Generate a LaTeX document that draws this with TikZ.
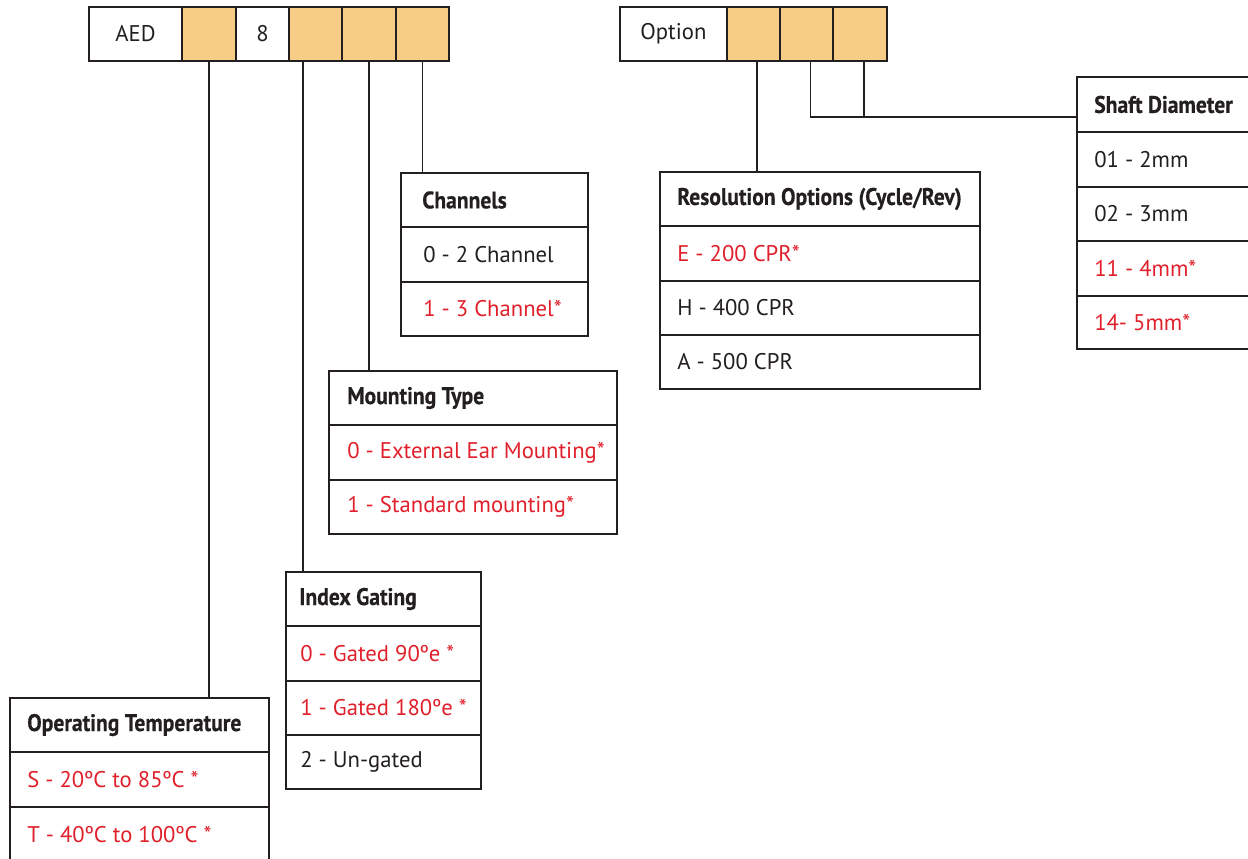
\documentclass[tikz,border=0pt]{standalone}
\usepackage{fontspec}
\setmainfont{PT Sans}
\newfontfamily\hfont{PT Sans}[FakeStretch=0.9,FakeBold=0.4]
\newdimen\pxu \pxu=0.75pt
\definecolor{ink}{HTML}{231F20}
\definecolor{optred}{HTML}{E0202B}
\definecolor{cellor}{HTML}{F7CC84}
\tikzset{
  cellbox/.style={draw=ink, line width=1.05pt, inner sep=0pt, outer sep=0pt, anchor=north west},
  hcell/.style={cellbox, minimum height=54*\pxu, font=\fontsize{17}{20}\selectfont, text=ink},
  ocell/.style={hcell, fill=cellor},
  headtxt/.style={anchor=west, inner sep=0pt, font=\hfont\bfseries\fontsize{18}{20}\selectfont, text=ink},
  itemtxt/.style={anchor=west, inner sep=0pt, font=\fontsize{17}{20}\selectfont, text=ink},
  reditem/.style={itemtxt, text=optred},
  link/.style={draw=ink, line width=1.1pt}
}
\begin{document}
\begin{tikzpicture}[x=0.75pt, y=-0.75pt]
\useasboundingbox (0,0) rectangle (1248,858);
% ---------- top-left code boxes ----------
\node[hcell, minimum width=93*\pxu] (aed) at (89,7) {AED};
\node[ocell, minimum width=54*\pxu] (o1) at (182,7) {};
\node[hcell, minimum width=53*\pxu] (eight) at (236,7) {8};
\node[ocell, minimum width=53*\pxu] (o2) at (289,7) {};
\node[ocell, minimum width=54*\pxu] (o3) at (342,7) {};
\node[ocell, minimum width=53*\pxu] (o4) at (396,7) {};
% ---------- option code boxes ----------
\node[hcell, minimum width=107*\pxu] (opt) at (620,7) {Option};
\node[ocell, minimum width=53*\pxu] (p1) at (727,7) {};
\node[ocell, minimum width=53*\pxu] (p2) at (780,7) {};
\node[ocell, minimum width=54*\pxu] (p3) at (833,7) {};
% ---------- Channels ----------
\node[cellbox, minimum width=187*\pxu, minimum height=54*\pxu] (chH) at (401,173) {};
\node[cellbox, minimum width=187*\pxu, minimum height=55*\pxu] (ch0) at (401,227) {};
\node[cellbox, minimum width=187*\pxu, minimum height=54*\pxu] (ch1) at (401,282) {};
\node[headtxt] (chHt) at ([xshift=21*\pxu]chH.west) {Channels};
\node[itemtxt] (ch0t) at ([xshift=22*\pxu]ch0.west) {0 - 2 Channel};
\node[reditem] (ch1t) at ([xshift=22*\pxu]ch1.west) {1 - 3 Channel*};
% ---------- Mounting Type ----------
\node[cellbox, minimum width=288*\pxu, minimum height=54*\pxu] (mtH) at (329,371) {};
\node[cellbox, minimum width=288*\pxu, minimum height=55*\pxu] (mt0) at (329,425) {};
\node[cellbox, minimum width=288*\pxu, minimum height=54*\pxu] (mt1) at (329,480) {};
\node[headtxt] (mtHt) at ([xshift=18*\pxu]mtH.west) {Mounting Type};
\node[reditem] (mt0t) at ([xshift=18*\pxu]mt0.west) {0 - External Ear Mounting*};
\node[reditem] (mt1t) at ([xshift=18*\pxu]mt1.west) {1 - Standard mounting*};
% ---------- Index Gating ----------
\node[cellbox, minimum width=195*\pxu, minimum height=54*\pxu] (igH) at (286,572) {};
\node[cellbox, minimum width=195*\pxu, minimum height=55*\pxu] (ig0) at (286,626) {};
\node[cellbox, minimum width=195*\pxu, minimum height=54*\pxu] (ig1) at (286,681) {};
\node[cellbox, minimum width=195*\pxu, minimum height=54*\pxu] (ig2) at (286,735) {};
\node[headtxt] (igHt) at ([xshift=13*\pxu]igH.west) {Index Gating};
\node[reditem] (ig0t) at ([xshift=14*\pxu]ig0.west) {0 - Gated 90ºe *};
\node[reditem] (ig1t) at ([xshift=14*\pxu]ig1.west) {1 - Gated 180ºe *};
\node[itemtxt] (ig2t) at ([xshift=14*\pxu]ig2.west) {2 - Un-gated};
% ---------- Operating Temperature ----------
\node[cellbox, minimum width=259*\pxu, minimum height=54*\pxu] (otH) at (10,698) {};
\node[cellbox, minimum width=259*\pxu, minimum height=55*\pxu] (ot0) at (10,752) {};
\node[cellbox, minimum width=259*\pxu, minimum height=56*\pxu] (ot1) at (10,807) {};
\node[headtxt] (otHt) at ([xshift=17*\pxu]otH.west) {Operating Temperature};
\node[reditem] (ot0t) at ([xshift=17*\pxu]ot0.west) {S - 20ºC to 85ºC *};
\node[reditem] (ot1t) at ([xshift=17*\pxu]ot1.west) {T - 40ºC to 100ºC *};
% ---------- Resolution Options ----------
\node[cellbox, minimum width=320*\pxu, minimum height=54*\pxu] (rsH) at (660,172) {};
\node[cellbox, minimum width=320*\pxu, minimum height=55*\pxu] (rs0) at (660,226) {};
\node[cellbox, minimum width=320*\pxu, minimum height=54*\pxu] (rs1) at (660,281) {};
\node[cellbox, minimum width=320*\pxu, minimum height=54*\pxu] (rs2) at (660,335) {};
\node[headtxt] (rsHt) at ([xshift=17*\pxu]rsH.west) {Resolution Options (Cycle/Rev)};
\node[reditem] (rs0t) at ([xshift=17*\pxu]rs0.west) {E - 200 CPR*};
\node[itemtxt] (rs1t) at ([xshift=17*\pxu]rs1.west) {H - 400 CPR};
\node[itemtxt] (rs2t) at ([xshift=17*\pxu]rs2.west) {A - 500 CPR};
% ---------- Shaft Diameter ----------
\node[cellbox, minimum width=190*\pxu, minimum height=55*\pxu] (sdH) at (1077,77) {};
\node[cellbox, minimum width=190*\pxu, minimum height=55*\pxu] (sd0) at (1077,132) {};
\node[cellbox, minimum width=190*\pxu, minimum height=54*\pxu] (sd1) at (1077,187) {};
\node[cellbox, minimum width=190*\pxu, minimum height=55*\pxu] (sd2) at (1077,241) {};
\node[cellbox, minimum width=190*\pxu, minimum height=53*\pxu] (sd3) at (1077,296) {};
\node[headtxt] (sdHt) at ([xshift=17*\pxu]sdH.west) {Shaft Diameter};
\node[itemtxt] (sd0t) at ([xshift=17*\pxu]sd0.west) {01 - 2mm};
\node[itemtxt] (sd1t) at ([xshift=17*\pxu]sd1.west) {02 - 3mm};
\node[reditem] (sd2t) at ([xshift=17*\pxu]sd2.west) {11 - 4mm*};
\node[reditem] (sd3t) at ([xshift=17*\pxu]sd3.west) {14- 5mm*};
% ---------- connectors ----------
\coordinate (xig) at (303,0);
\coordinate (xrs) at (757,0);
\coordinate (xsa) at (810.5,0);
\coordinate (xsb) at (864,0);
\coordinate (sdj) at (1077,117);
\draw[link] (o1.south) -- (otH.north -| o1.south);
\draw[link] (o2.south -| xig) -- (igH.north -| xig);
\draw[link] (o3.south) -- (mtH.north -| o3.south);
\draw[link] (o4.south) -- (chH.north -| o4.south);
\draw[link] (p1.south -| xrs) -- (rsH.north -| xrs);
\draw[link] (p2.south -| xsa) |- (sdj);
\draw[link] (p3.south -| xsb) -- (sdj -| xsb);
\end{tikzpicture}
\end{document}
